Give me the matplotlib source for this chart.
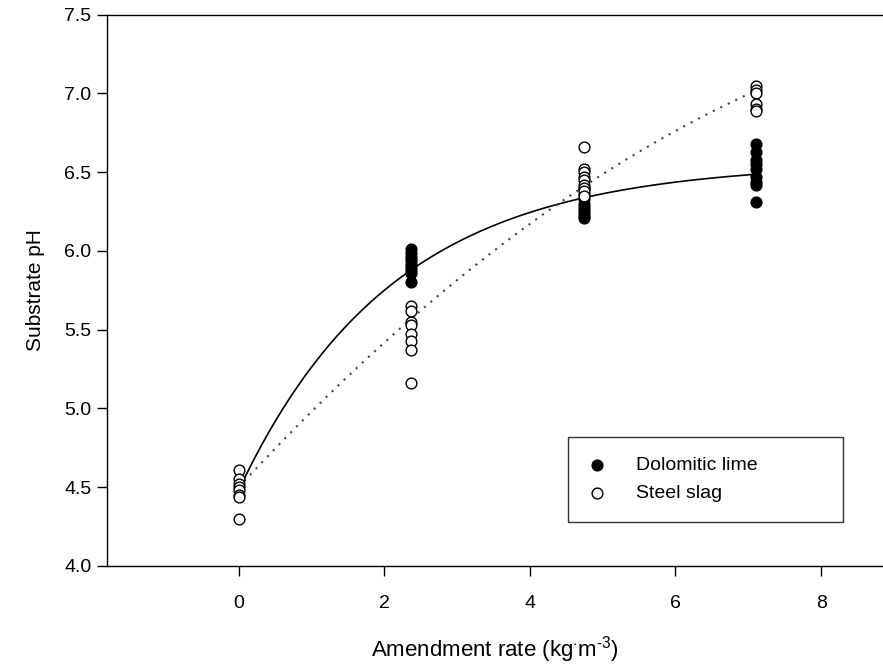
import numpy as np
from matplotlib import pyplot as plt

plt.rcParams['font.family'] = ['Liberation Sans', 'DejaVu Sans']
plt.rcParams['mathtext.fontset'] = 'custom'
plt.rcParams['mathtext.rm'] = 'Liberation Sans'
plt.rcParams['mathtext.it'] = 'Liberation Sans'

# amendment rates (kg m-3)
rates = [0, 2.37, 4.75, 7.11]

# dolomitic lime pH readings per rate (control shown with the steel slag)
lime_rate = [2.37] * 9 + [4.75] * 9 + [7.11] * 9
lime_ph = [6.01, 5.99, 5.96, 5.94, 5.92, 5.90, 5.88, 5.86, 5.80,
           6.40, 6.36, 6.33, 6.30, 6.28, 6.26, 6.24, 6.22, 6.21,
           6.68, 6.63, 6.58, 6.55, 6.52, 6.47, 6.44, 6.42, 6.31]

# steel slag pH readings per rate
slag_rate = [0] * 8 + [2.37] * 8 + [4.75] * 9 + [7.11] * 6
slag_ph = [4.61, 4.55, 4.52, 4.50, 4.48, 4.45, 4.44, 4.30,
           5.65, 5.62, 5.55, 5.53, 5.47, 5.43, 5.37, 5.16,
           6.66, 6.52, 6.50, 6.47, 6.45, 6.42, 6.40, 6.38, 6.35,
           7.05, 7.02, 7.00, 6.93, 6.90, 6.89]

# regression fits
lime_fit = (4.48, 2.08, 0.4716)     # y0 + a*(1 - exp(-b*x))
slag_fit = (4.50, 0.50, -0.0205)    # c0 + c1*x + c2*x^2

fig = plt.figure(figsize=(8.83, 6.69), dpi=100)
ax = fig.add_axes([0.121, 0.154, 0.879, 0.824])

xx = np.linspace(0, rates[-1], 200)
y0, a, b = lime_fit
ax.plot(xx, y0 + a * (1 - np.exp(-b * xx)), color='black', lw=1.2, zorder=2)
c0, c1, c2 = slag_fit
ax.plot(xx, c0 + c1 * xx + c2 * xx ** 2, color='#444444', lw=1.5,
        linestyle=(0, (1, 3)), zorder=2)

ax.scatter(lime_rate, lime_ph, s=60, facecolor='black', edgecolor='black',
           linewidth=1, zorder=3, label='Dolomitic lime')
ax.scatter(slag_rate, slag_ph, s=60, facecolor='white', edgecolor='black',
           linewidth=1, zorder=4, label='Steel slag')

ax.set_xlim(-1.81, 8.85)
ax.set_ylim(4.0, 7.5)
ax.set_xticks([0, 2, 4, 6, 8])
ax.set_yticks(np.arange(4.0, 7.51, 0.5))
ax.set_yticklabels(['%.1f' % v for v in np.arange(4.0, 7.51, 0.5)])
ax.spines['right'].set_visible(False)
for s in ['left', 'bottom', 'top']:
    ax.spines[s].set_linewidth(1.0)
ax.tick_params(direction='out', length=7, width=1, labelsize=14)
ax.tick_params(axis='x', pad=14)
ax.tick_params(axis='y', pad=4)

ax.set_ylabel('Substrate pH', fontsize=15, labelpad=14)
ax.set_xlabel(r'Amendment rate (kg$^{\cdot}$m$^{\text{-3}}$)', fontsize=16,
              labelpad=16)

leg = ax.legend(loc='upper left', bbox_to_anchor=(0.594, 0.076, 0.354, 0.158),
                mode='expand', fontsize=14, frameon=True, fancybox=False,
                edgecolor='black', borderpad=1.0, handlelength=1.0,
                handletextpad=1.5, labelspacing=0.55, borderaxespad=0)
leg.get_frame().set_linewidth(1.0)

plt.savefig('out.png', dpi=100)
